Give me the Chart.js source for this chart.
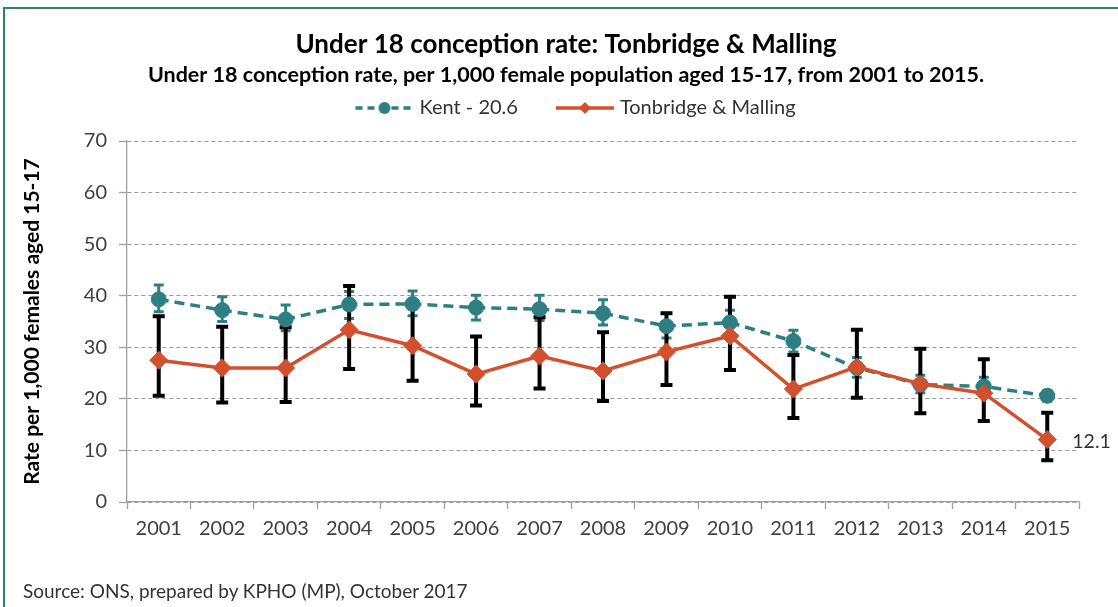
<!DOCTYPE html>
<html>
<head>
<meta charset="utf-8">
<script src="https://cdn.jsdelivr.net/npm/chart.js@4.4.0/dist/chart.umd.min.js"></script>
<style>
  html, body { margin: 0; padding: 0; background: #fff; overflow: hidden; }
  #frame { position: absolute; left: 3px; top: 7px; width: 1300px; height: 800px; border: 2px solid #2e7d80; }
  #wrap { position: absolute; left: 0; top: 0; width: 1118px; height: 607px; }
  #source { position: absolute; left: 23px; top: 579px; font: 19px Lato, sans-serif; line-height: 24px; color: #333; }
</style>
</head>
<body>
<div id="frame"></div>
<div id="wrap"><canvas id="chart" width="1118" height="607"></canvas></div>
<div id="source">Source: ONS, prepared by KPHO (MP), October 2017</div>
<script>
const years = ['2001', '2002', '2003', '2004', '2005', '2006', '2007', '2008',
               '2009', '2010', '2011', '2012', '2013', '2014', '2015'];

// Kent rate with 95% confidence limits
const kentRate  = [39.3, 37.2, 35.4, 38.3, 38.4, 37.7, 37.4, 36.6, 34.1, 34.8, 31.2, 26.0, 22.8, 22.4, 20.6];
const kentLower = [36.9, 35.0, 33.2, 35.6, 36.1, 35.3, 35.2, 34.3, 31.8, 32.4, 29.1, 24.2, 21.2, 20.8, 19.6];
const kentUpper = [42.1, 39.8, 38.2, 40.8, 40.9, 40.1, 40.1, 39.2, 36.6, 37.2, 33.3, 28.0, 24.6, 24.2, 21.6];

// Tonbridge & Malling rate with 95% confidence limits
const tmRate  = [27.5, 26.0, 26.0, 33.4, 30.3, 24.8, 28.3, 25.4, 29.1, 32.2, 21.9, 26.2, 22.9, 21.1, 12.1];
const tmLower = [20.6, 19.3, 19.4, 25.8, 23.5, 18.7, 22.0, 19.6, 22.7, 25.6, 16.3, 20.2, 17.2, 15.7, 8.1];
const tmUpper = [36.0, 34.0, 33.9, 41.9, 38.8, 32.1, 35.8, 32.9, 36.6, 39.8, 28.5, 33.4, 29.7, 27.7, 17.3];

const yMin = 0;
const yMax = 70;
const yStep = 10;

const kentColour = '#2e7f82';
const tmColour = '#d2502d';
const family = 'Lato, sans-serif';

// small canvases used as legend symbols (line + marker)
function legendIcon(colour, dash, shape) {
    const c = document.createElement('canvas');
    c.width = 60;
    c.height = 18;
    const g = c.getContext('2d');
    g.strokeStyle = colour;
    g.fillStyle = colour;
    g.lineWidth = 3.5;
    g.setLineDash(dash);
    g.beginPath();
    g.moveTo(1, 9);
    g.lineTo(59, 9);
    g.stroke();
    g.beginPath();
    if (shape === 'circle') {
        g.arc(30, 9, 6, 0, Math.PI * 2);
    } else {
        g.moveTo(30, 3); g.lineTo(36, 9); g.lineTo(30, 15); g.lineTo(24, 9);
        g.closePath();
    }
    g.fill();
    return c;
}
const icons = [legendIcon(kentColour, [7, 5], 'circle'), legendIcon(tmColour, [], 'diamond')];

// confidence interval whiskers, drawn underneath the lines
const errorBars = {
    id: 'errorBars',
    beforeDatasetsDraw(chart) {
        const ctx = chart.ctx;
        const yScale = chart.scales.y;
        chart.data.datasets.forEach((ds, di) => {
            const meta = chart.getDatasetMeta(di);
            ctx.save();
            ctx.strokeStyle = ds.errorColour;
            ctx.lineWidth = ds.errorWidth;
            ctx.setLineDash([]);
            meta.data.forEach((pt, i) => {
                const hi = yScale.getPixelForValue(ds.upper[i]);
                const lo = yScale.getPixelForValue(ds.lower[i]);
                ctx.beginPath();
                ctx.moveTo(pt.x, hi); ctx.lineTo(pt.x, lo);
                ctx.moveTo(pt.x - ds.capHalf, hi); ctx.lineTo(pt.x + ds.capHalf, hi);
                ctx.moveTo(pt.x - ds.capHalf, lo); ctx.lineTo(pt.x + ds.capHalf, lo);
                ctx.stroke();
            });
            ctx.restore();
        });
    }
};

// value label at the last Tonbridge & Malling point
const endLabel = {
    id: 'endLabel',
    afterDatasetsDraw(chart) {
        const ctx = chart.ctx;
        const meta = chart.getDatasetMeta(1);
        const last = meta.data[meta.data.length - 1];
        ctx.save();
        ctx.font = '19.5px ' + family;
        ctx.fillStyle = '#333';
        ctx.textAlign = 'left';
        ctx.textBaseline = 'middle';
        ctx.fillText(tmRate[tmRate.length - 1].toFixed(1), last.x + 25, last.y + 2);
        ctx.restore();
    }
};

// put title, subtitle and legend where the original has them
const headerSpots = {
    id: 'headerSpots',
    afterLayout(chart) {
        chart.boxes.forEach(b => {
            if (b.axis || b.position !== 'top') return;
            let spot;
            if (b === chart.legend) spot = { x: 577.5, top: 108 - 42 - 10 };
            else if (b === chart.titleBlock) spot = { x: 566, top: 45 - 15.6 };
            else spot = { x: 566, top: 75 - 12.9 };
            const w = b.right - b.left;
            const h = b.bottom - b.top;
            b.left = spot.x - w / 2;
            b.right = b.left + w;
            b.top = spot.top;
            b.bottom = b.top + h;
        });
    }
};

const ctx = document.getElementById('chart').getContext('2d');
const chart = new Chart(ctx, {
    type: 'line',
    data: {
        labels: years,
        datasets: [{
            label: 'Kent - 20.6',
            data: kentRate,
            lower: kentLower,
            upper: kentUpper,
            errorColour: kentColour,
            errorWidth: 3,
            capHalf: 5,
            order: 2,
            borderColor: kentColour,
            backgroundColor: kentColour,
            borderWidth: 3.5,
            borderDash: [10, 6],
            pointStyle: 'circle',
            pointRadius: 7.5,
            pointBorderWidth: 1,
            tension: 0
        }, {
            label: 'Tonbridge & Malling',
            data: tmRate,
            lower: tmLower,
            upper: tmUpper,
            errorColour: '#000',
            errorWidth: 4,
            capHalf: 6,
            order: 1,
            borderColor: tmColour,
            backgroundColor: tmColour,
            borderWidth: 3.5,
            pointStyle: 'rectRot',
            pointRadius: 9,
            pointBorderWidth: 1,
            tension: 0
        }]
    },
    options: {
        responsive: false,
        animation: false,
        layout: { padding: { top: 12, left: 10, right: 39, bottom: 0 } },
        plugins: {
            title: {
                display: true,
                text: 'Under 18 conception rate: Tonbridge & Malling',
                color: '#000',
                font: { family: family, size: 26, weight: 'bold' },
                padding: 0
            },
            subtitle: {
                display: true,
                text: 'Under 18 conception rate, per 1,000 female population aged 15-17, from 2001 to 2015.',
                color: '#000',
                font: { family: family, size: 21.5, weight: 'bold' },
                padding: 0
            },
            legend: {
                display: true,
                position: 'top',
                labels: {
                    usePointStyle: true,
                    pointStyleWidth: 50,
                    padding: 42,
                    color: '#333',
                    font: { family: family, size: 20 },
                    sort: (a, b) => a.datasetIndex - b.datasetIndex,
                    generateLabels: function(chart) {
                        const items = Chart.defaults.plugins.legend.labels.generateLabels(chart);
                        items.forEach(it => { it.pointStyle = icons[it.datasetIndex]; });
                        return items;
                    }
                }
            },
            tooltip: { enabled: false }
        },
        scales: {
            x: {
                offset: true,
                grid: { offset: true, drawOnChartArea: false, tickLength: 7, tickColor: '#a0a0a0', tickWidth: 1.3 },
                border: { color: '#a0a0a0', width: 1.3 },
                ticks: { color: '#404040', font: { family: family, size: 20 }, padding: 8, maxRotation: 0, autoSkip: false },
                afterFit: function(scale) { scale.height = 105; }
            },
            y: {
                min: yMin,
                max: yMax,
                ticks: { stepSize: yStep, color: '#404040', font: { family: family, size: 20 }, padding: 12 },
                grid: { color: '#9a9a9a', lineWidth: 1, tickColor: '#a0a0a0', tickLength: 8, tickWidth: 1.3 },
                border: { color: '#a0a0a0', width: 1.3, dash: [4, 3] },
                title: {
                    display: true,
                    text: 'Rate per 1,000 females aged 15-17',
                    color: '#000',
                    font: { family: family, size: 21, weight: 'bold' },
                    padding: { top: 10, bottom: 0 }
                },
                afterFit: function(scale) { scale.width = 117; }
            }
        }
    },
    plugins: [errorBars, endLabel, headerSpots]
});
</script>
</body>
</html>
